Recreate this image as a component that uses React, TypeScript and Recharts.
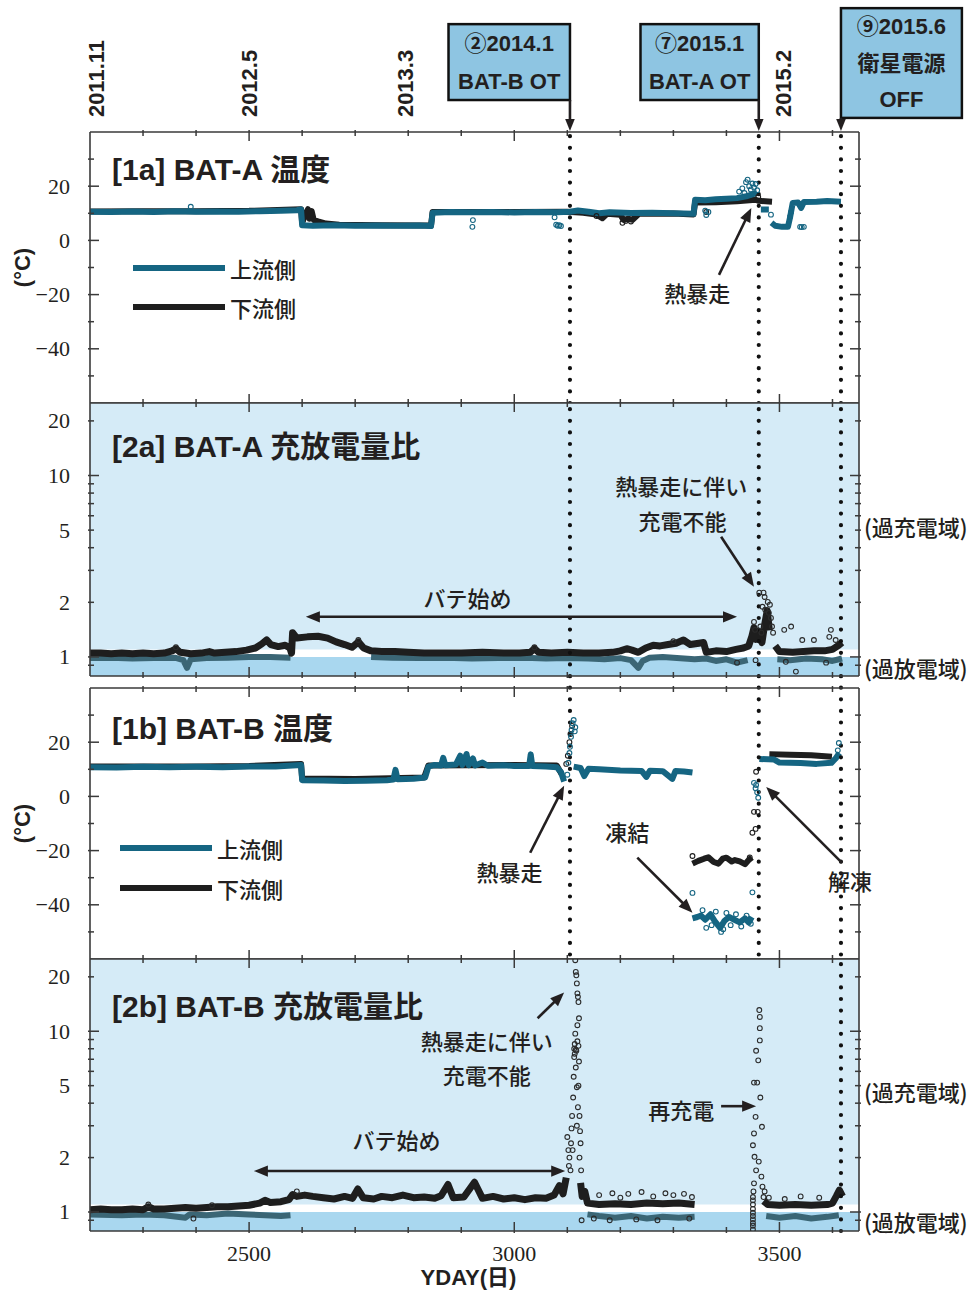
import React from 'react'
import {
  ComposedChart,
  Legend,
  Line,
  ReferenceArea,
  ReferenceDot,
  ReferenceLine,
  Scatter,
  XAxis,
  YAxis,
} from 'recharts'

const SANS = "'Liberation Sans', 'Noto Sans CJK JP', sans-serif"
const JP = "'Noto Sans CJK JP', 'Liberation Sans', sans-serif"
const SERIF = "'Liberation Serif', 'DejaVu Serif', serif"
const INK = '#231f20'
const FRAME = '#3a3a3a'
const TEAL = '#156582'
const BLACK = '#1e1e1e'
const BAND_LOW = '#3b6675'
const RING = '#2b2b2b'
const PALE = '#d5ebf7'
const DEEP = '#a9d7ef'
const BOX = '#8ec5e2'

// axes
const X_DOMAIN = [2200, 3650]
const X_TICKS = [2300, 2400, 2500, 2600, 2700, 2800, 2900, 3000, 3100, 3200, 3300, 3400, 3500, 3600]
const X_LABELED = [2500, 3000, 3500]
const TEMP_DOMAIN = [-60, 40]
const TEMP_TICKS = [-50, -40, -30, -20, -10, 0, 10, 20, 30]
const TEMP_LABELED = [-40, -20, 0, 20]
const RATIO_DOMAIN = [0.785, 25.1]
const RATIO_TICKS = [0.9, 1, 2, 3, 4, 5, 6, 7, 8, 9, 10, 20]
const RATIO_LABELED = [1, 2, 5, 10, 20]
const RATIO_LONG = [1, 10]
const EVENT_DAYS = [3105, 3461, 3616]

// [1a] BAT-A temperature
const A_UP = [
  [2200, 10.6], [2240, 10.5], [2280, 10.7], [2320, 10.5], [2360, 10.8], [2400, 10.6], [2440, 10.7],
  [2480, 10.6], [2520, 10.8], [2560, 10.9], [2590, 11.1], [2598, 11.4], [2600, 5.6], [2620, 5.4],
  [2660, 5.6], [2700, 5.4], [2740, 5.5], [2780, 5.4], [2820, 5.5], [2843, 5.3], [2846, 10.2],
  [2880, 10.5], [2920, 10.4], [2960, 10.5], [3000, 10.3], [3040, 10.5], [3080, 10.4], [3105, 10.6],
  [3120, 11.0], [3140, 10.6], [3160, 10.0], [3180, 10.4], [3220, 10.1], [3260, 10.2], [3300, 10.0],
  [3338, 9.8], [3341, 15.0], [3360, 14.8], [3380, 15.2], [3400, 15.4], [3420, 15.6], [3440, 16.4],
  [3458, 17.5], [3461, null], [3465, 11.4], [3480, 11.4], [3482, null], [3485, 6.5], [3492, 5.4],
  [3505, 5.0], [3516, 5.0], [3520, 8.5], [3525, 13.8], [3535, 14.0], [3541, 12.0], [3546, 14.2],
  [3570, 14.3], [3590, 14.5], [3616, 14.3],
]
const A_DOWN = [
  [2200, 10.7], [2300, 10.8], [2400, 10.8], [2500, 10.9], [2598, 11.5], [2600, 6.5], [2606, 9.5],
  [2611, 11.5], [2614, 8.0], [2618, 10.8], [2622, 7.5], [2630, 7.0], [2645, 6.2], [2670, 5.8],
  [2750, 5.6], [2843, 5.5], [2846, 10.5], [3000, 10.5], [3100, 10.6], [3130, 10.2], [3155, 9.5],
  [3166, 8.2], [3175, 9.8], [3200, 9.5], [3206, 7.6], [3215, 8.0], [3223, 7.6], [3235, 9.8],
  [3300, 9.9], [3338, 9.6], [3341, 14.0], [3380, 14.1], [3420, 14.4], [3455, 15.0], [3461, 14.6],
  [3486, 14.3],
]
const A_UP_DOTS = [
  [2390, 12.4], [2921, 5.0], [2922, 7.5], [3076, 8.5], [3079, 5.8], [3082, 5.4], [3085, 5.6],
  [3088, 5.3], [3360, 11.0], [3362, 9.4], [3366, 10.5], [3424, 18.0], [3430, 19.2], [3434, 17.5],
  [3437, 21.5], [3440, 22.4], [3443, 20.0], [3446, 18.8], [3449, 21.0], [3452, 19.5], [3455, 20.8],
  [3458, 18.5], [3484, 9.5], [3520, 8.7], [3522, 10.5], [3539, 5.0], [3542, 4.9], [3546, 5.0],
]
const A_DOWN_DOTS = [[3155, 9.0], [3204, 6.5], [3210, 7.2], [3220, 7.0], [3362, 10.5], [3460, 16.0]]

// [2a] BAT-A charge/discharge ratio
const RATIO_A = [
  [2200, 1.05], [2220, 1.05], [2240, 1.04], [2260, 1.05], [2280, 1.04], [2300, 1.05], [2320, 1.04],
  [2340, 1.05], [2355, 1.08], [2362, 1.11], [2370, 1.06], [2390, 1.04], [2410, 1.05], [2425, 1.07],
  [2435, 1.05], [2455, 1.06], [2475, 1.07], [2495, 1.09], [2512, 1.12], [2524, 1.18], [2533, 1.24],
  [2541, 1.17], [2555, 1.14], [2568, 1.16], [2577, 1.12], [2580, 1.05], [2582, 1.36], [2590, 1.27],
  [2610, 1.29], [2630, 1.30], [2648, 1.27], [2664, 1.21], [2680, 1.17], [2694, 1.13], [2706, 1.21],
  [2716, 1.12], [2730, 1.08], [2750, 1.07], [2775, 1.07], [2800, 1.06], [2830, 1.05], [2860, 1.05],
  [2900, 1.05], [2940, 1.06], [2980, 1.05], [3010, 1.05], [3030, 1.06], [3038, 1.11], [3046, 1.06],
  [3070, 1.05], [3100, 1.06], [3130, 1.05], [3160, 1.05], [3185, 1.06], [3200, 1.08], [3212, 1.11],
  [3222, 1.09], [3234, 1.06], [3248, 1.12], [3262, 1.16], [3275, 1.15], [3290, 1.17], [3305, 1.19],
  [3319, 1.24], [3332, 1.17], [3348, 1.19], [3357, 1.20], [3362, 1.06], [3380, 1.08], [3400, 1.07],
  [3418, 1.10], [3432, 1.12], [3442, 1.15], [3448, 1.30], [3452, 1.45], [3456, 1.25], [3462, 1.35],
  [3467, 1.20], [3472, 1.50], [3477, 1.80], [3481, 1.40], [3483, null], [3492, 1.15], [3500, 1.07],
  [3525, 1.06], [3545, 1.07], [3565, 1.08], [3585, 1.08], [3600, 1.10], [3610, 1.15], [3618, 1.20],
]
const RATIO_A_LOW = [
  [2200, 0.985], [2240, 0.99], [2280, 0.98], [2320, 0.985], [2360, 0.99], [2376, 0.96], [2383, 0.87],
  [2390, 0.97], [2420, 0.985], [2460, 0.99], [2500, 1.0], [2540, 1.0], [2578, 0.99], [2580, null],
  [2730, 1.0], [2770, 0.99], [2820, 0.985], [2870, 0.99], [2920, 0.98], [2970, 0.985], [3020, 0.99],
  [3060, 0.98], [3100, 0.985], [3140, 0.98], [3170, 0.97], [3200, 0.985], [3220, 0.96], [3234, 0.87],
  [3242, 0.95], [3255, 0.99], [3280, 1.0], [3300, 0.99], [3340, 0.97], [3362, 0.98], [3380, 0.95],
  [3400, 0.97], [3420, 0.93], [3440, 0.96], [3450, null], [3496, 0.97], [3520, 0.96], [3550, 0.98],
  [3580, 0.97], [3600, 0.95], [3618, 0.98],
]
const RATIO_A_DOTS = [
  [2362, 1.13], [2706, 1.24], [3038, 1.13], [3300, 1.22], [3420, 0.93], [3452, 1.56], [3454, 1.41],
  [3455, 0.96], [3462, 2.26], [3464, 1.47], [3466, 1.36], [3468, 1.89], [3470, 2.26], [3472, 2.14],
  [3473, 1.82], [3478, 2.01], [3480, 1.75], [3482, 1.94], [3484, 1.64], [3486, 1.47], [3488, 1.36],
  [3509, 1.41], [3512, 0.94], [3522, 1.47], [3531, 0.83], [3543, 1.24], [3565, 1.24], [3588, 0.93],
  [3594, 1.29], [3597, 1.41], [3606, 1.24],
]

// [1b] BAT-B temperature
const B_UP = [
  [2200, 10.8], [2250, 10.7], [2300, 10.9], [2350, 10.8], [2400, 10.9], [2450, 10.8], [2500, 11.0],
  [2550, 11.0], [2598, 11.6], [2600, 6.0], [2640, 5.9], [2680, 5.7], [2720, 5.8], [2760, 6.0],
  [2772, 6.2], [2776, 9.8], [2780, 6.3], [2810, 6.5], [2832, 7.0], [2838, 11.0], [2850, 11.6],
  [2862, 11.4], [2866, 14.2], [2870, 11.5], [2890, 11.8], [2898, 15.0], [2902, 11.6], [2910, 15.6],
  [2914, 11.5], [2922, 14.0], [2926, 11.4], [2940, 12.5], [2950, 11.3], [2980, 11.5], [3000, 11.2],
  [3028, 11.2], [3031, 15.5], [3034, 11.2], [3060, 11.0], [3080, 10.8], [3088, 9.0], [3094, 5.5],
  [3098, null], [3112, 11.0], [3125, 10.5], [3132, 7.5], [3140, 10.2], [3160, 10.0], [3200, 9.6],
  [3240, 9.4], [3249, 7.2], [3256, 9.5], [3280, 9.3], [3298, 6.5], [3304, 9.4], [3320, 9.2],
  [3336, 8.8], [3338, null], [3336, -45.0], [3345, -44.5], [3352, -44.0], [3360, -45.5],
  [3370, -43.5], [3378, -46.0], [3388, -48.5], [3396, -46.0], [3405, -44.5], [3415, -45.5],
  [3425, -46.5], [3435, -45.0], [3442, -46.5], [3448, -44.5], [3450, null], [3462, 13.8],
  [3490, 13.6], [3500, 12.5], [3540, 12.3], [3570, 12.0], [3598, 12.4], [3606, 14.0], [3613, 16.0],
]
const B_DOWN = [
  [2200, 11.0], [2300, 11.0], [2400, 11.0], [2500, 11.2], [2598, 12.0], [2600, 6.6], [2700, 6.4],
  [2830, 7.0], [2838, 11.4], [3000, 11.6], [3080, 11.4], [3090, 8.0], [3095, null], [3336, -24.8],
  [3347, -23.8], [3358, -23.0], [3366, -22.5], [3376, -24.2], [3385, -24.8], [3393, -23.0],
  [3400, -22.6], [3410, -24.0], [3416, -23.5], [3425, -24.0], [3435, -25.0], [3442, -23.5],
  [3448, -22.5], [3450, null], [3481, 15.6], [3520, 15.4], [3560, 15.2], [3599, 14.6],
]
const B_UP_DOTS = [
  [3100, 8.0], [3102, 12.4], [3104, 16.0], [3105, 18.3], [3107, 22.0], [3108, 24.5], [3110, 27.0],
  [3112, 28.2], [3114, 24.0], [3115, 25.5], [3336, -35.6], [3449, -35.4], [3355, -42.0],
  [3362, -48.5], [3372, -47.5], [3380, -42.5], [3390, -50.0], [3394, -49.0], [3400, -43.0],
  [3408, -47.5], [3418, -43.5], [3428, -48.0], [3438, -44.0], [3446, -47.0], [3452, 5.0],
  [3455, 3.0], [3456, 4.2], [3458, 1.5], [3460, -0.5], [3610, 17.0], [3612, 19.7],
]
const B_DOWN_DOTS = [
  [3098, 12.0], [3101, 15.0], [3104, 20.0], [3106, 23.0], [3109, 26.0], [3336, -22.0],
  [3444, -22.5], [3449, -13.4], [3452, -5.7], [3455, -12.0], [3456, 9.1], [3459, -5.7],
]

// [2b] BAT-B charge/discharge ratio
const RATIO_B = [
  [2200, 1.03], [2220, 1.04], [2240, 1.03], [2260, 1.03], [2280, 1.04], [2300, 1.03], [2310, 1.07],
  [2320, 1.04], [2340, 1.04], [2360, 1.05], [2380, 1.06], [2400, 1.05], [2420, 1.06], [2440, 1.07],
  [2460, 1.07], [2480, 1.08], [2500, 1.09], [2520, 1.12], [2530, 1.16], [2540, 1.13], [2560, 1.14],
  [2575, 1.17], [2582, 1.25], [2590, 1.22], [2605, 1.24], [2620, 1.22], [2640, 1.20], [2660, 1.18],
  [2680, 1.22], [2695, 1.19], [2705, 1.34], [2715, 1.20], [2735, 1.18], [2750, 1.22], [2770, 1.20],
  [2790, 1.24], [2810, 1.20], [2830, 1.21], [2850, 1.19], [2862, 1.23], [2875, 1.42], [2885, 1.20],
  [2905, 1.21], [2925, 1.46], [2940, 1.19], [2960, 1.22], [2980, 1.18], [3000, 1.20], [3020, 1.17],
  [3040, 1.20], [3060, 1.19], [3075, 1.24], [3085, 1.40], [3092, 1.26], [3098, 1.55], [3102, null],
  [3125, 1.45], [3128, 1.22], [3133, 1.30], [3138, 1.12], [3160, 1.10], [3190, 1.11], [3220, 1.10],
  [3250, 1.12], [3280, 1.11], [3310, 1.12], [3340, 1.10], [3342, null], [3470, 1.15], [3478, 1.10],
  [3500, 1.09], [3530, 1.10], [3560, 1.09], [3590, 1.10], [3600, 1.12], [3607, 1.22], [3613, 1.32],
  [3619, 1.22],
]
const RATIO_B_LOW = [
  [2200, 0.97], [2260, 0.96], [2300, 0.97], [2340, 0.96], [2380, 0.93], [2388, 0.97], [2420, 0.96],
  [2460, 0.98], [2500, 0.97], [2530, 0.96], [2560, 0.95], [2578, 0.96], [2580, null], [3138, 0.97],
  [3160, 0.95], [3190, 0.93], [3220, 0.95], [3250, 0.92], [3280, 0.94], [3310, 0.93], [3340, 0.94],
  [3342, null], [3475, 0.95], [3500, 0.93], [3530, 0.95], [3560, 0.92], [3590, 0.94], [3612, 0.96],
]
const RATIO_B_DOTS = [
  [2310, 1.1], [2395, 0.92], [2430, 1.09], [2590, 1.3], [3160, 1.24], [3185, 1.27], [3200, 1.2],
  [3215, 1.26], [3240, 1.29], [3262, 1.22], [3285, 1.27], [3300, 1.24], [3320, 1.26], [3335, 1.21],
  [3150, 0.92], [3180, 0.9], [3230, 0.91], [3270, 0.9], [3330, 0.92], [3480, 1.2], [3510, 1.18],
  [3540, 1.22], [3575, 1.2],
  // 2014.1 spike
  [3100, 2.6], [3102, 2.2], [3103, 1.8], [3104, 2.0], [3106, 1.7], [3107, 2.4], [3108, 2.9],
  [3109, 3.4], [3110, 2.2], [3111, 4.3], [3112, 5.6], [3113, 7.2], [3113, 8.0], [3114, 8.5],
  [3114, 7.5], [3115, 24.7], [3115, 9.7], [3116, 21.3], [3116, 6.3], [3116, 7.9], [3117, 20.4],
  [3117, 7.8], [3118, 18.4], [3118, 4.9], [3118, 3.0], [3119, 16.2], [3119, 10.8], [3119, 8.8],
  [3120, 15.5], [3120, 3.8], [3121, 14.5], [3121, 8.3], [3121, 5.0], [3122, 11.8], [3122, 6.8],
  [3123, 3.4], [3123, 2.0], [3124, 2.8], [3125, 2.4], [3126, 1.7], [3127, 0.9],
  // recharge
  [3450, 0.80], [3450, 0.84], [3450, 0.87], [3450, 0.91], [3450, 0.95], [3450, 0.99], [3450, 1.04],
  [3450, 1.10], [3450, 1.16], [3450, 1.21], [3451, 1.30], [3452, 1.44], [3450, 2.34], [3452, 2.72],
  [3452, 5.2], [3453, 2.02], [3455, 3.36], [3456, 1.7], [3456, 7.8], [3458, 5.2], [3460, 6.9],
  [3461, 1.9], [3462, 13.1], [3463, 12.0], [3463, 10.4], [3463, 8.9], [3464, 4.3], [3466, 1.57],
  [3467, 2.96], [3468, 1.38], [3470, 1.21], [3472, 1.3],
]

// annotations
const DATE_MARKS = [
  { x: 2213, label: '2011.11' },
  { x: 2501, label: '2012.5' },
  { x: 2795, label: '2013.3' },
  { x: 3507, label: '2015.2' },
]
const DATE_Y = 45.5
const EVENT_BOXES = [
  { x1: 2876, x2: 3105, y1: 51.8, y2: 79.8, arrowX: 3105, lines: ['②2014.1', 'BAT-B OT'] },
  { x1: 3238, x2: 3461, y1: 51.8, y2: 79.8, arrowX: 3461, lines: ['⑦2015.1', 'BAT-A OT'] },
  { x1: 3616, x2: 3844, y1: 45.2, y2: 85.7, arrowX: 3616, lines: ['⑨2015.6', '衛星電源', 'OFF'] },
]
const EVENT_ARROW_END = 40.4

const NOTES_1A = [{ x: 3345, y: -18.9, text: '熱暴走' }]
const ARROWS_1A = [{ x1: 3386, y1: -12.7, x2: 3447, y2: 12.0 }]
const NOTES_2A = [
  { x: 3315, y: 8.81, text: '熱暴走に伴い' },
  { x: 3317, y: 5.71, text: '充電不能' },
  { x: 2912, y: 2.145, text: 'バテ始め' },
]
const ARROWS_2A = [
  { x1: 3390, y1: 4.6, x2: 3452, y2: 2.44 },
  { x1: 2607, y1: 1.664, x2: 3420, y2: 1.664, both: true },
]
const NOTES_1B = [
  { x: 2991, y: -27.4, text: '熱暴走' },
  { x: 3213, y: -12.7, text: '凍結' },
  { x: 3633, y: -30.7, text: '解凍' },
]
const ARROWS_1B = [
  { x1: 3030, y1: -20.8, x2: 3094, y2: 3.9 },
  { x1: 3232, y1: -22.6, x2: 3336, y2: -42.9 },
  { x1: 3618, y1: -24.5, x2: 3475, y2: 3.5 },
]
const NOTES_2B = [
  { x: 2948, y: 8.9, text: '熱暴走に伴い' },
  { x: 2948, y: 5.78, text: '充電不能' },
  { x: 2778, y: 2.53, text: 'バテ始め' },
  { x: 3315, y: 3.71, text: '再充電' },
]
const ARROWS_2B = [
  { x1: 3044, y1: 11.8, x2: 3094, y2: 16.4 },
  { x1: 2509, y1: 1.685, x2: 3096, y2: 1.685, both: true },
  { x1: 3390, y1: 3.85, x2: 3456, y2: 3.85 },
]
const ZONES_NOTE_A: Record<string, [string, number]> = { '5': ['(過充電域)', -4], '0.9': ['(過放電域)', 2] }
const ZONES_NOTE_B: Record<string, [string, number]> = { '5': ['(過充電域)', 5], '0.9': ['(過放電域)', 1] }
const RATIO_ZONES = [
  { from: 0.785, to: 25.1, color: PALE },
  { from: 0.785, to: 1.0, color: DEEP },
  { from: 1.0, to: 1.1, color: '#ffffff' },
]
const LEGEND = [
  { name: '上流側', color: TEAL },
  { name: '下流側', color: BLACK },
]

const pts = (a: (number | null)[][]) => a.map(([x, y]) => ({ x, y }))
const fmt = (v: number) => (v < 0 ? `\u2212${-v}` : `${v}`)

// ---- ticks (all drawn inward) ----
const bottomTick = (labeled: boolean) => (p: any) => {
  const v = p.payload.value
  const major = X_LABELED.includes(v)
  return (
    <g>
      <line x1={p.x} x2={p.x} y1={p.y} y2={p.y - (major ? 11 : 6)} stroke={FRAME} strokeWidth={1.5} />
      {labeled && major ? (
        <text x={p.x} y={p.y + 20} textAnchor="middle" dominantBaseline="central"
          fontFamily={SERIF} fontSize={22} fill={INK}>{v}</text>
      ) : null}
    </g>
  )
}
const topTick = (p: any) => {
  const major = X_LABELED.includes(p.payload.value)
  return <line x1={p.x} x2={p.x} y1={p.y} y2={p.y + (major ? 11 : 6)} stroke={FRAME} strokeWidth={1.5} />
}
const leftTick = (labeled: number[], long: number[]) => (p: any) => {
  const v = p.payload.value
  return (
    <g>
      <line x1={p.x} x2={p.x + (long.includes(v) ? 11 : 6)} y1={p.y} y2={p.y} stroke={FRAME} strokeWidth={1.5} />
      {labeled.includes(v) ? (
        <text x={p.x - 18} y={p.y} textAnchor="end" dominantBaseline="central"
          fontFamily={SERIF} fontSize={22} fill={INK}>{fmt(v)}</text>
      ) : null}
    </g>
  )
}
const rightTick = (long: number[], notes?: Record<string, [string, number]>) => (p: any) => {
  const v = p.payload.value
  const note = notes ? notes[String(v)] : undefined
  return (
    <g>
      <line x1={p.x} x2={p.x - (long.includes(v) ? 11 : 6)} y1={p.y} y2={p.y} stroke={FRAME} strokeWidth={1.5} />
      {note ? (
        <text x={p.x + 3} y={p.y + note[1]} dominantBaseline="central" fontFamily={JP}
          fontWeight={500} fontSize={22} fill={INK}>{note[0]}</text>
      ) : null}
    </g>
  )
}

const titleLabel = (title: string, dy: number) => (p: any) => (
  <text x={p.viewBox.x + 22} y={p.viewBox.y + 1 + dy} dominantBaseline="central" fontFamily={SANS}
    fontWeight={700} fontSize={30} fill={INK}>{title}</text>
)
const unitLabel = (p: any) => {
  const cx = p.viewBox.x - 67
  const cy = p.viewBox.y + p.viewBox.height / 2
  return (
    <text x={cx} y={cy} transform={`rotate(-90 ${cx} ${cy})`} textAnchor="middle" dominantBaseline="central"
      fontFamily={SANS} fontWeight={700} fontSize={22} fill={INK}>(°C)</text>
  )
}
const xTitle = (p: any) => (
  <text x={p.viewBox.x + p.viewBox.width / 2 - 6} y={p.viewBox.y + 46} textAnchor="middle"
    dominantBaseline="central" fontFamily={SANS} fontWeight={700} fontSize={22} fill={INK}>YDAY(日)</text>
)

// ---- annotation shapes ----
const noteShape = (text: string) => (p: any) => (
  <text x={p.cx} y={p.cy} textAnchor="middle" dominantBaseline="central" fontFamily={JP}
    fontWeight={500} fontSize={22} fill={INK}>{text}</text>
)
const dateShape = (text: string) => (p: any) => (
  <text x={p.cx} y={p.cy} transform={`rotate(-90 ${p.cx} ${p.cy})`} dominantBaseline="central"
    fontFamily={SANS} fontWeight={700} fontSize={22} fill={INK}>{text}</text>
)
const boxShape = (lines: string[]) => (p: any) => (
  <g>
    <rect x={p.x} y={p.y} width={p.width} height={p.height} fill={BOX} stroke="#111" strokeWidth={2.5} />
    {lines.map((t, i) => (
      <text key={i} x={p.x + p.width / 2} y={p.y + (p.height * (i + 0.5)) / lines.length}
        textAnchor="middle" dominantBaseline="central" fontFamily={SANS} fontWeight={700}
        fontSize={22} fill={INK}>{t}</text>
    ))}
  </g>
)
const arrowShape = (both: boolean, size = 14) => (p: any) => {
  const { x1, y1, x2, y2 } = p
  const a = Math.atan2(y2 - y1, x2 - x1)
  const head = (x: number, y: number, ang: number) => {
    const bx = x - size * Math.cos(ang)
    const by = y - size * Math.sin(ang)
    const nx = -Math.sin(ang) * size * 0.4
    const ny = Math.cos(ang) * size * 0.4
    return `${x},${y} ${bx + nx},${by + ny} ${bx - nx},${by - ny}`
  }
  const cut = size * 0.7
  return (
    <g>
      <line
        x1={both ? x1 + cut * Math.cos(a) : x1} y1={both ? y1 + cut * Math.sin(a) : y1}
        x2={x2 - cut * Math.cos(a)} y2={y2 - cut * Math.sin(a)}
        stroke={INK} strokeWidth={2.6} />
      <polygon points={head(x2, y2, a)} fill={INK} />
      {both ? <polygon points={head(x1, y1, a + Math.PI)} fill={INK} /> : null}
    </g>
  )
}
const dotted = (p: any) => (
  <line x1={p.x1} y1={p.y1} x2={p.x2} y2={p.y2} stroke="#111" strokeWidth={4.2}
    strokeDasharray="0 11.6" strokeLinecap="round" />
)
const ring = (color: string) => (p: any) => (
  <circle cx={p.cx} cy={p.cy} r={2.4} fill="none" stroke={color} strokeWidth={1.1} />
)

const legendContent = (rowH: number) => () => (
  <div style={{ fontFamily: JP, fontSize: 22, fontWeight: 500, color: INK }}>
    {LEGEND.map((it) => (
      <div key={it.name} style={{ display: 'flex', alignItems: 'center', height: rowH }}>
        <span style={{ display: 'inline-block', width: 92, height: 6, background: it.color, marginRight: 5 }} />
        <span>{it.name}</span>
      </div>
    ))}
  </div>
)

// ---- shared pieces ----
type FrameOpts = {
  kind: 'temp' | 'ratio'
  title: string
  titleDy: number
  xLabels?: boolean
  bottomHeight?: number
  notes?: Record<string, [string, number]>
}
function frame(o: FrameOpts) {
  const temp = o.kind === 'temp'
  const domain = temp ? TEMP_DOMAIN : RATIO_DOMAIN
  const ticks = temp ? TEMP_TICKS : RATIO_TICKS
  const labeled = temp ? TEMP_LABELED : RATIO_LABELED
  const long = temp ? TEMP_LABELED : RATIO_LONG
  const scale = temp ? 'linear' : 'log'
  const axisLine = { stroke: FRAME, strokeWidth: 1.6 }
  return [
    <XAxis key="xb" type="number" dataKey="x" domain={X_DOMAIN} ticks={X_TICKS} interval={0}
      allowDataOverflow height={o.bottomHeight ?? 1} tickSize={0} tickLine={false} axisLine={axisLine}
      tick={bottomTick(!!o.xLabels)} label={o.xLabels ? { content: xTitle } : undefined} />,
    <XAxis key="xt" xAxisId="t" orientation="top" type="number" dataKey="x" domain={X_DOMAIN}
      ticks={X_TICKS} interval={0} allowDataOverflow height={1} tickSize={0} tickLine={false}
      axisLine={axisLine} tick={topTick} label={{ content: titleLabel(o.title, o.titleDy) }} />,
    <YAxis key="yl" type="number" dataKey="y" scale={scale} domain={domain} ticks={ticks} interval={0}
      allowDataOverflow width={1} tickSize={0} tickLine={false} axisLine={axisLine}
      tick={leftTick(labeled, long)} label={temp ? { content: unitLabel } : undefined} />,
    <YAxis key="yr" yAxisId="r" orientation="right" type="number" dataKey="y" scale={scale}
      domain={domain} ticks={ticks} interval={0} allowDataOverflow width={1} tickSize={0}
      tickLine={false} axisLine={axisLine} tick={rightTick(long, o.notes)} />,
  ]
}

function zones() {
  return RATIO_ZONES.map((z, i) => (
    <ReferenceArea key={`z${i}`} y1={z.from} y2={z.to} fill={z.color} fillOpacity={1}
      stroke="none" ifOverflow="hidden" />
  ))
}

function eventLines(days: number[], from?: number, to?: number) {
  return days.map((d) =>
    from === undefined ? (
      <ReferenceLine key={`e${d}`} x={d} shape={dotted} />
    ) : (
      <ReferenceLine key={`e${d}`} segment={[{ x: d, y: from }, { x: d, y: to }]}
        ifOverflow="visible" shape={dotted} />
    ),
  )
}

function notes(list: { x: number; y: number; text: string }[]) {
  return list.map((n, i) => (
    <ReferenceDot key={`n${i}`} x={n.x} y={n.y} r={0} ifOverflow="visible" shape={noteShape(n.text)} />
  ))
}

function arrows(list: { x1: number; y1: number; x2: number; y2: number; both?: boolean }[]) {
  return list.map((a, i) => (
    <ReferenceLine key={`a${i}`} segment={[{ x: a.x1, y: a.y1 }, { x: a.x2, y: a.y2 }]}
      ifOverflow="visible" shape={arrowShape(!!a.both)} />
  ))
}

function series(name: string, data: (number | null)[][], color: string, width: number, legend = false) {
  return (
    <Line key={name} name={name} data={pts(data)} dataKey="y" stroke={color} strokeWidth={width}
      dot={false} activeDot={false} connectNulls={false} strokeLinejoin="round"
      legendType={legend ? 'line' : 'none'} isAnimationActive={false} />
  )
}

function dots(name: string, data: (number | null)[][], color: string) {
  return (
    <Scatter key={name} name={name} data={pts(data)} shape={ring(color)} legendType="none"
      isAnimationActive={false} />
  )
}

// plot spans x 90..859; each axis takes 1px of the margin
const MARGIN = { left: 89, right: 115 }

export default function App() {
  return (
    <div style={{ position: 'absolute', left: 0, top: 0, width: 975, height: 1290, background: '#fff' }}>
      {/* [1a] with the event header above it */}
      <div style={{ position: 'absolute', left: 0, top: 0 }}>
        <ComposedChart width={975} height={404} margin={{ ...MARGIN, top: 131, bottom: 0 }}>
          {frame({ kind: 'temp', title: '[1a] BAT-A 温度', titleDy: 37 })}
          {series('下流側', A_DOWN, BLACK, 6, true)}
          {series('上流側', A_UP, TEAL, 6, true)}
          {dots('a-down-dots', A_DOWN_DOTS, BLACK)}
          {dots('a-up-dots', A_UP_DOTS, TEAL)}
          {eventLines(EVENT_DAYS)}
          {notes(NOTES_1A)}
          {arrows(ARROWS_1A)}
          {DATE_MARKS.map((d) => (
            <ReferenceDot key={d.label} x={d.x} y={DATE_Y} r={0} ifOverflow="visible" shape={dateShape(d.label)} />
          ))}
          {EVENT_BOXES.map((b) => (
            <ReferenceArea key={b.lines[0]} x1={b.x1} x2={b.x2} y1={b.y1} y2={b.y2} ifOverflow="visible"
              shape={boxShape(b.lines)} />
          ))}
          {EVENT_BOXES.map((b) => (
            <ReferenceLine key={`ea${b.arrowX}`} segment={[{ x: b.arrowX, y: b.y1 }, { x: b.arrowX, y: EVENT_ARROW_END }]}
              ifOverflow="visible" shape={arrowShape(false, 12)} />
          ))}
          <Legend layout="vertical" align="center" verticalAlign="middle" content={legendContent(39)}
            wrapperStyle={{ left: 133, top: 248, width: 200, height: 80 }} />
        </ComposedChart>
      </div>

      {/* [2a]: extra bottom margin so the zone note below the frame is not clipped */}
      <div style={{ position: 'absolute', left: 0, top: 402 }}>
        <ComposedChart width={975} height={287} margin={{ ...MARGIN, top: 0, bottom: 12 }}>
          {zones()}
          {frame({ kind: 'ratio', title: '[2a] BAT-A 充放電量比', titleDy: 43, notes: ZONES_NOTE_A })}
          {series('a-low', RATIO_A_LOW, BAND_LOW, 6)}
          {series('a-ratio', RATIO_A, BLACK, 7)}
          {dots('a-ratio-dots', RATIO_A_DOTS, RING)}
          {eventLines(EVENT_DAYS)}
          {notes(NOTES_2A)}
          {arrows(ARROWS_2A)}
        </ComposedChart>
      </div>

      {/* [1b] */}
      <div style={{ position: 'absolute', left: 0, top: 677 }}>
        <ComposedChart width={975} height={283} margin={{ ...MARGIN, top: 10, bottom: 0 }}>
          {frame({ kind: 'temp', title: '[1b] BAT-B 温度', titleDy: 40 })}
          {series('下流側', B_DOWN, BLACK, 6, true)}
          {series('上流側', B_UP, TEAL, 6, true)}
          {dots('b-down-dots', B_DOWN_DOTS, BLACK)}
          {dots('b-up-dots', B_UP_DOTS, TEAL)}
          {eventLines(EVENT_DAYS, 44.4, -60)}
          {notes(NOTES_1B)}
          {arrows(ARROWS_1B)}
          <Legend layout="vertical" align="center" verticalAlign="middle" content={legendContent(40)}
            wrapperStyle={{ left: 120, top: 151, width: 200, height: 80 }} />
        </ComposedChart>
      </div>

      {/* [2b] */}
      <div style={{ position: 'absolute', left: 0, top: 958 }}>
        <ComposedChart width={975} height={332} margin={{ ...MARGIN, top: 0, bottom: 0 }}>
          {zones()}
          {frame({ kind: 'ratio', title: '[2b] BAT-B 充放電量比', titleDy: 47, xLabels: true, bottomHeight: 59, notes: ZONES_NOTE_B })}
          {series('b-low', RATIO_B_LOW, BAND_LOW, 6)}
          {series('b-ratio', RATIO_B, BLACK, 7)}
          {dots('b-ratio-dots', RATIO_B_DOTS, RING)}
          {eventLines([EVENT_DAYS[2]])}
          {notes(NOTES_2B)}
          {arrows(ARROWS_2B)}
        </ComposedChart>
      </div>
    </div>
  )
}
